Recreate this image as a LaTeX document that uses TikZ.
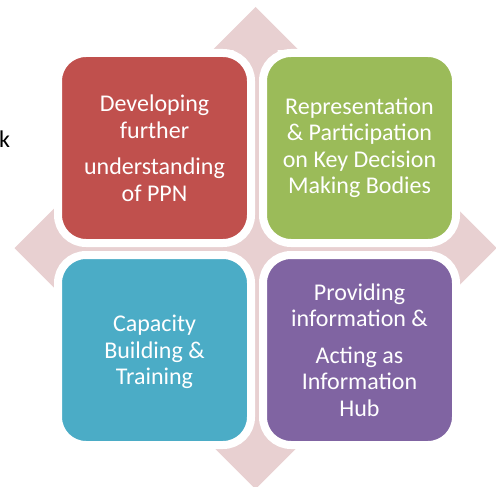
\documentclass[tikz,border=0pt]{standalone}
\usepackage{fontspec}
\setmainfont{Carlito}
\definecolor{cellred}{HTML}{C0504D}
\definecolor{cellgreen}{HTML}{9BBB59}
\definecolor{cellaqua}{HTML}{4BACC6}
\definecolor{cellpurple}{HTML}{8064A2}
\definecolor{arrowpink}{HTML}{E8D0D1}
\begin{document}
\begin{tikzpicture}[x=1pt,y=-1pt,line width=0.4pt,
  every node/.style={font=\fontsize{24}{26.5}\selectfont,inner sep=0pt},
  cell/.style={draw=white,line width=8pt,rounded corners=28pt,minimum width=193pt,minimum height=190pt,text=white,align=center}]
\useasboundingbox (0,0) rectangle (496,487);
\foreach \r in {0,90,180,270}
  \fill[arrowpink,shift={(255.5,248)},rotate=\r] (-22,0) -- (-22,-198) -- (-43,-198) -- (0,-241) -- (43,-198) -- (22,-198) -- (22,0) -- cycle;
\node[cell,fill=cellred] (develop) at (154.5,148) {Developing\\further\\[10pt]understanding\\of PPN};
\node[cell,fill=cellgreen] (represent) at (359.5,148) {Representation\\\& Participation\\on Key Decision\\Making Bodies};
\node[cell,fill=cellaqua] (capacity) at (154.5,350) {};
\node[text=white,align=center] (capacitytext) at (154.5,352) {Capacity\\Building \&\\Training};
\node[cell,fill=cellpurple] (inform) at (359.5,350) {Providing\\information \&\\[10pt]Acting as\\Information\\Hub};
\node[anchor=base west] (k) at (-1,147) {k};
\end{tikzpicture}
\end{document}
